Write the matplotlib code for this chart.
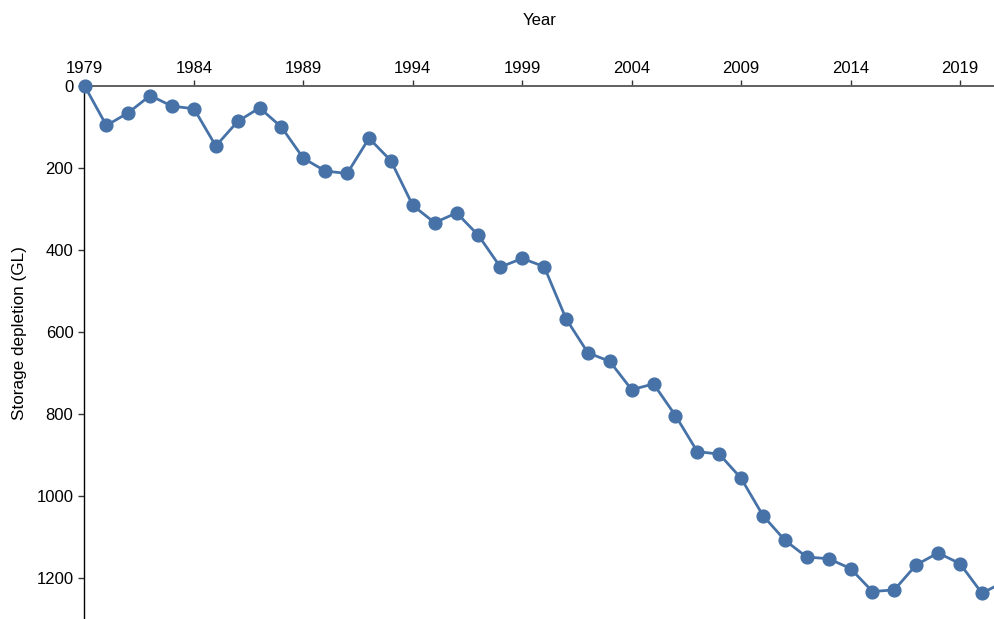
import matplotlib.pyplot as plt

plt.rcParams['font.family'] = ['Liberation Sans', 'DejaVu Sans']

# storage depletion (GL) per year
years = list(range(1979, 2022))
depletion = [0, 97, 66, 24, 50, 56, 147, 87, 54, 101,
             177, 208, 214, 128, 183, 292, 334, 310, 365, 442,
             421, 441, 568, 651, 672, 741, 727, 804, 892, 898,
             957, 1048, 1108, 1149, 1153, 1177, 1233, 1229, 1168, 1139,
             1165, 1237, 1210]
xticks = list(range(1979, 2020, 5))
yticks = [0, 200, 400, 600, 800, 1000, 1200]

W, H = 995, 619
fig = plt.figure(figsize=(W / 100, H / 100), dpi=100)
ax = fig.add_axes([84.5 / W, 0, 1 - 84.5 / W, (H - 85.7) / H])

blue = '#4672A8'
# line is clipped at the right edge, markers are not (first one sits on the corner)
ax.plot(years, depletion, color=blue, lw=2.0, zorder=3)
ax.plot(years, depletion, color=blue, lw=0, marker='o', markersize=9.2,
        clip_on=False, zorder=4)

ax.set_xlim(1979, 2020.6)
ax.set_ylim(1300, 0)
ax.set_xticks(xticks)
ax.set_yticks(yticks)

ax.xaxis.tick_top()
ax.xaxis.set_label_position('top')
ax.set_xlabel('Year', fontsize=12, labelpad=26)
ax.set_ylabel('Storage depletion (GL)', fontsize=12.3)
ax.yaxis.set_label_coords(-0.063, 0.536)

ax.spines['bottom'].set_visible(False)
ax.spines['right'].set_visible(False)
ax.spines['top'].set_color('#606060')
ax.spines['top'].set_linewidth(1.4)
ax.spines['left'].set_color('black')
ax.spines['left'].set_linewidth(1.0)

ax.tick_params(axis='x', direction='out', length=4, width=1, colors='#333333',
               labelcolor='black', labelsize=12, pad=3)
ax.tick_params(axis='y', direction='out', length=4, width=1, colors='#333333',
               labelcolor='black', labelsize=12, pad=4)

fig.savefig('out.png', dpi=100)
